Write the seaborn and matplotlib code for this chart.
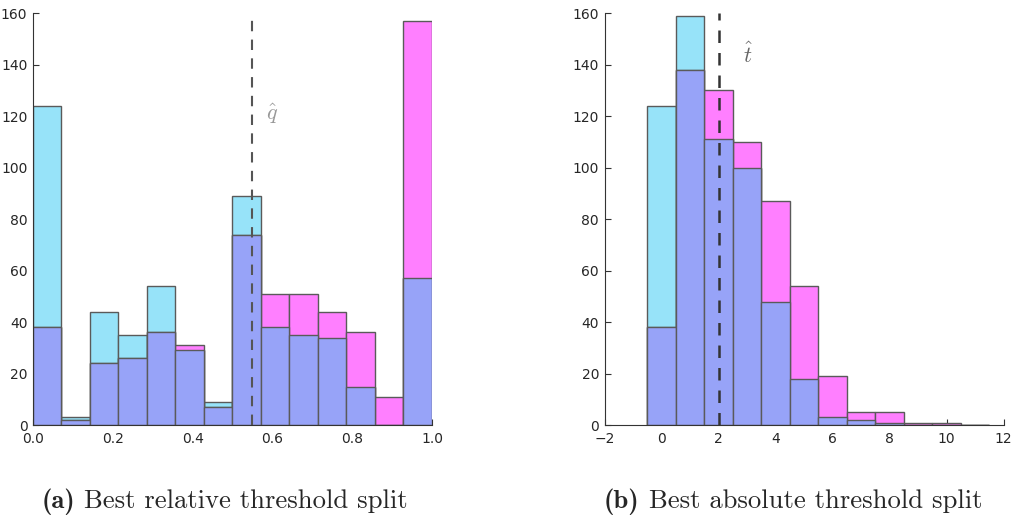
import matplotlib
matplotlib.use('Agg')

import numpy as np
import pandas as pd
import matplotlib.pyplot as plt
import seaborn as sns

# counts
rel_edges = list(np.linspace(0, 1, 15))
rel_cyan = [124, 3, 44, 35, 54, 29, 9, 89, 38, 35, 34, 15, 0, 57]
rel_magenta = [38, 2, 24, 26, 36, 31, 7, 74, 51, 51, 44, 36, 11, 157]

abs_edges = list(np.arange(-0.5, 12.0, 1.0))
abs_cyan = [124, 159, 111, 100, 48, 18, 3, 2, 1, 0, 0, 0]
abs_magenta = [38, 138, 130, 110, 87, 54, 19, 5, 5, 1, 1, 0]

rel_split = 0.55
abs_split = 2

caption_tags = ['(a)', '(b)']
caption_texts = ['Best relative threshold split', 'Best absolute threshold split']

CYAN = '#97e3f9'
MAGENTA = '#ff7fff'
BLUE = '#97a3f8'

sns.set_style("ticks", {"xtick.direction": "in", "ytick.direction": "in"})
plt.rcParams['font.family'] = ['DejaVu Sans']
plt.rcParams['mathtext.fontset'] = 'cm'


def draw_hist(ax, edges, cyan, magenta):
    e = np.array(edges)
    centers = (e[:-1] + e[1:]) / 2
    df = pd.DataFrame({'x': centers, 'cyan': cyan, 'magenta': magenta})
    df['both'] = np.minimum(df['cyan'], df['magenta'])
    for col, colour in [('cyan', CYAN), ('magenta', MAGENTA), ('both', BLUE)]:
        sns.histplot(data=df, x='x', weights=col, bins=edges, ax=ax,
                     color=colour, alpha=1, edgecolor='#5a5a5a', linewidth=1)
    ax.set_xlabel('')
    ax.set_ylabel('')


fig = plt.figure(figsize=(10.11, 5.21), dpi=100)
ax1 = fig.add_axes([0.0326, 0.184, 0.3947, 0.791])
ax2 = fig.add_axes([0.598, 0.184, 0.3947, 0.791])

draw_hist(ax1, rel_edges, rel_cyan, rel_magenta)
ax1.set_xlim(0, 1)
ax1.set_ylim(0, 160)
ax1.axvline(rel_split, color='#555555', linestyle='--', dashes=(5, 4), lw=1.5)
ax1.text(0.60, 121, r'$\hat{q}$', color='#999999', fontsize=16, ha='center', va='center')

draw_hist(ax2, abs_edges, abs_cyan, abs_magenta)
ax2.set_xlim(-2, 12)
ax2.set_ylim(0, 160)
ax2.set_xticks(range(-2, 13, 2))
ax2.axvline(abs_split, color='#333333', linestyle='--', dashes=(5, 4), lw=1.8)
ax2.text(3.02, 144, r'$\hat{t}$', color='#666666', fontsize=16, ha='center', va='center')

for ax in (ax1, ax2):
    sns.despine(ax=ax)
    ax.set_yticks(range(0, 161, 20))
    ax.tick_params(labelsize=10, length=4, color='#333333')
    ax.tick_params(axis='x', pad=5)
    ax.tick_params(axis='y', pad=4)
    ax.spines['left'].set_color('#333333')
    ax.spines['bottom'].set_color('#333333')

# captions: bold tag + regular text, centred under each panel
fig.canvas.draw()
renderer = fig.canvas.get_renderer()
for cx, tag, txt in zip([225, 793], caption_tags, caption_texts):
    t1 = fig.text(0, 0.025, tag, fontsize=19.2, family='cmb10', va='baseline')
    t2 = fig.text(0, 0.025, txt, fontsize=19.2, family='cmr10', va='baseline')
    w1 = t1.get_window_extent(renderer).width
    w2 = t2.get_window_extent(renderer).width
    gap = 9
    x0 = cx - (w1 + gap + w2) / 2
    t1.set_x(x0 / fig.bbox.width)
    t2.set_x((x0 + w1 + gap) / fig.bbox.width)

fig.savefig('out.png', dpi=100)
